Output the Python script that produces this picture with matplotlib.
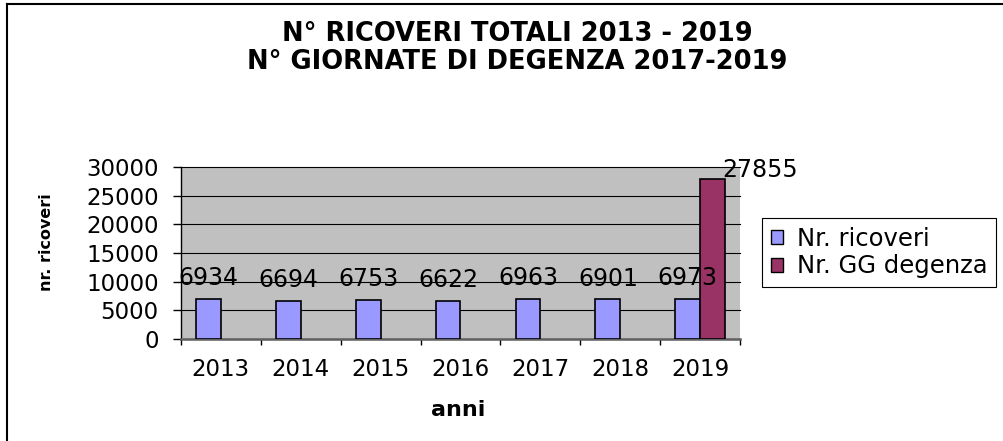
import numpy as np
import matplotlib
matplotlib.use("Agg")
import matplotlib.pyplot as plt
from matplotlib.lines import Line2D
from matplotlib.patches import Patch

# ---- data ----
years = ["2013", "2014", "2015", "2016", "2017", "2018", "2019"]
ricoveri = [6934, 6694, 6753, 6622, 6963, 6901, 6973]
gg_degenza = [np.nan, np.nan, np.nan, np.nan, np.nan, np.nan, 27855]
series_names = ["Nr. ricoveri", "Nr. GG degenza"]
title_text = "N° RICOVERI TOTALI 2013 - 2019\nN° GIORNATE DI DEGENZA 2017-2019"
ylabel_text = "nr. ricoveri"
xlabel_text = "anni"
yticks = [0, 5000, 10000, 15000, 20000, 25000, 30000]

c_blue = "#9999FF"
c_maroon = "#993366"
c_plot = "#C0C0C0"

W, H = 1004, 441
fig = plt.figure(figsize=(W / 100, H / 100), dpi=100)
fig.patch.set_facecolor("white")
plt.rcParams["font.family"] = ["DejaVu Sans"]

# plot area
x0, x1, ytop, ybot = 181, 740, 167, 339
ax = fig.add_axes([x0 / W, 1 - ybot / H, (x1 - x0) / W, (ybot - ytop) / H])
ax.set_facecolor(c_plot)

x = np.arange(len(years))
bw = 0.31
ax.bar(x - bw / 2, ricoveri, width=bw, color=c_blue, edgecolor="black", linewidth=1.2, zorder=3)
ax.bar(x + bw / 2, gg_degenza, width=bw, color=c_maroon, edgecolor="black", linewidth=1.2, zorder=3)

ax.set_xlim(-0.5, len(years) - 0.5)
ax.set_ylim(0, 30000)
ax.set_yticks(yticks)
ax.set_yticklabels([str(v) for v in yticks])
ax.yaxis.grid(True, color="black", linewidth=0.8, zorder=1)
ax.set_axisbelow(True)
for gl in ax.get_ygridlines():
    gl.set_clip_on(False)

ax.set_xticks(x)
ax.set_xticklabels(years)
ax.set_xticks(np.arange(len(years) + 1) - 0.5, minor=True)
ax.tick_params(axis="x", which="major", length=0, pad=14, labelsize=16.5)
ax.tick_params(axis="x", which="minor", length=4.5, width=1, direction="out", color="black")
ax.tick_params(axis="y", which="major", length=6, width=1, direction="out", pad=10, labelsize=16.5)

for s in ["top", "right"]:
    ax.spines[s].set_visible(False)
ax.spines["left"].set_color("black")
ax.spines["left"].set_linewidth(1)
ax.spines["bottom"].set_color("#606060")
ax.spines["bottom"].set_linewidth(1.8)

# data labels
for xi, v in zip(x, ricoveri):
    ax.annotate(str(v), xy=(xi - bw / 2, v), xytext=(0, 15), textcoords="offset points",
                ha="center", va="center", fontsize=17, zorder=5, annotation_clip=False)
for xi, v in zip(x, gg_degenza):
    if not np.isnan(v):
        ax.annotate(str(int(v)), xy=(xi + bw / 2, v), xytext=(34, 6.5), textcoords="offset points",
                    ha="center", va="center", fontsize=17, zorder=5, annotation_clip=False)

# title & axis labels
fig.text(517 / W, 1 - 48 / H, title_text, ha="center", va="center", fontsize=18.5,
         fontweight="bold", linespacing=1.12)
fig.text(47 / W, 1 - 242 / H, ylabel_text, rotation=90, ha="center", va="center",
         fontsize=11.5, fontweight="bold")
fig.text(458 / W, 1 - 410 / H, xlabel_text, ha="center", va="center", fontsize=16,
         fontweight="bold")

# legend
handles = [Patch(facecolor=c_blue, edgecolor="black", linewidth=1),
           Patch(facecolor=c_maroon, edgecolor="black", linewidth=1)]
leg = fig.legend(handles, series_names, loc="center left",
                 bbox_to_anchor=(762 / W, 1 - 252.5 / H), fontsize=17.5,
                 frameon=True, fancybox=False, framealpha=1, edgecolor="black",
                 handlelength=0.5, handleheight=0.5, handletextpad=0.6,
                 borderpad=0.35, labelspacing=0.15, borderaxespad=0)
leg.get_frame().set_linewidth(0.8)

# outer border (top and left visible)
fig.add_artist(Line2D([7 / W, 1.0], [1 - 4 / H, 1 - 4 / H], color="black", linewidth=1.5,
                      transform=fig.transFigure))
fig.add_artist(Line2D([7 / W, 7 / W], [0, 1 - 4 / H], color="black", linewidth=1.5,
                      transform=fig.transFigure))

fig.savefig("out.png", dpi=100)
